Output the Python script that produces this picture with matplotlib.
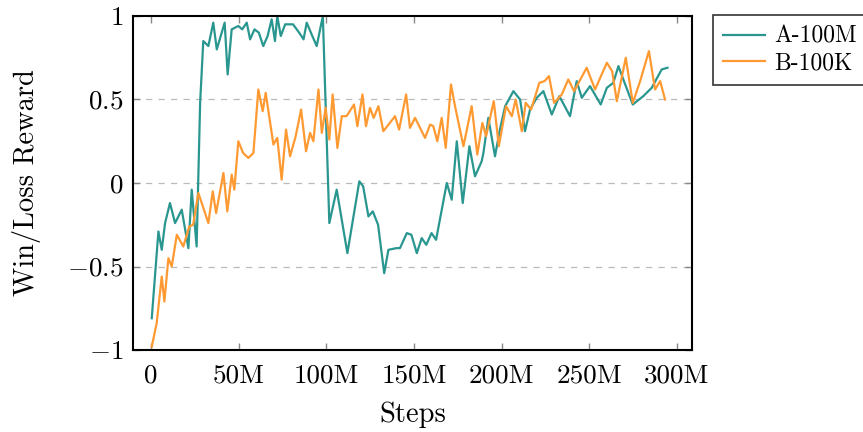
import matplotlib
matplotlib.use("Agg")
import matplotlib.pyplot as plt

plt.rcParams['font.family'] = 'serif'
plt.rcParams['font.serif'] = ['cmr10', 'DejaVu Serif']
plt.rcParams['mathtext.fontset'] = 'cm'
plt.rcParams['axes.formatter.use_mathtext'] = True

# steps in millions, reward values
a_steps = [0.4, 4.2, 6.1, 8, 10.8, 13.7, 17.5, 21.3, 23.2, 26, 28, 29.8, 32.7, 35.5, 37.5,
           42, 43.7, 46, 49.8, 52, 54.6, 56.5, 59, 61.5, 64, 66.5, 68.8, 70.7, 72, 74, 76.5,
           81, 84.5, 87, 88.8, 92, 94.5, 98, 101.7, 105.9, 112, 118.8, 121, 124, 126.5,
           129.5, 133, 135.4, 140, 142, 145.9, 148.5, 151.6, 154.4, 157, 160, 162.6, 168.7,
           171.5, 174.4, 177.8, 181.6, 184.8, 188.6, 189.6, 192.4, 196.2, 199, 202, 206.7,
           210.5, 213.3, 216.2, 220, 223.8, 228.6, 232.9, 239, 242.8, 245.7, 250.4, 256.5,
           260, 263.7, 266.6, 269.4, 274.8, 280.8, 285.6, 291.3, 294.6]
a_reward = [-0.81, -0.29, -0.40, -0.24, -0.12, -0.24, -0.16, -0.39, -0.04, -0.38, 0.48, 0.85,
            0.82, 0.96, 0.80, 0.96, 0.65, 0.92, 0.94, 0.92, 0.96, 0.86, 0.92, 0.90, 0.82,
            0.88, 0.98, 0.85, 1.0, 0.88, 0.95, 0.95, 0.90, 0.86, 0.96, 0.88, 0.82, 1.0, -0.24,
            -0.04, -0.42, 0.01, -0.02, -0.20, -0.17, -0.25, -0.54, -0.40, -0.39, -0.39, -0.30,
            -0.31, -0.42, -0.33, -0.37, -0.30, -0.34, 0.0, -0.10, 0.25, -0.12, 0.22, 0.04,
            0.13, 0.18, 0.39, 0.16, 0.32, 0.46, 0.55, 0.50, 0.31, 0.44, 0.51, 0.55, 0.41, 0.52,
            0.40, 0.61, 0.51, 0.58, 0.47, 0.57, 0.60, 0.70, 0.62, 0.47, 0.52, 0.57, 0.68, 0.69]

b_steps = [0.4, 3.2, 6.1, 7.6, 9.9, 11.8, 14.7, 18.4, 21.8, 24, 27, 32.7, 35.2, 37.1, 41.3,
           43.5, 46, 47.5, 49.8, 52.5, 55.5, 58.4, 61.2, 63.7, 65.4, 69.8, 72, 74.5, 77,
           79.3, 82.5, 85.6, 88.4, 90.7, 92.6, 95.5, 97.4, 99.6, 101.7, 103.6, 106.3, 108.8,
           111.5, 115.8, 117.7, 120.6, 122.6, 124.9, 127, 129.7, 132.5, 139.2, 141.5, 145.5,
           147.7, 150.6, 156.3, 159.2, 161, 163.3, 165.8, 168.1, 171.1, 173.4, 178.2, 182.9,
           186.1, 189, 191.1, 195.5, 198.4, 202.5, 205.8, 208, 211.5, 213.7, 216.8, 221.5,
           224.5, 227, 229.9, 234.3, 238, 241.3, 248.5, 253.3, 260, 263, 265.7, 270.8, 274.8,
           279, 284, 287.5, 290.4, 293.2]
b_reward = [-0.98, -0.84, -0.56, -0.71, -0.45, -0.50, -0.31, -0.38, -0.26, -0.25, -0.06,
            -0.24, -0.05, -0.18, 0.06, -0.17, 0.05, -0.04, 0.25, 0.18, 0.15, 0.18, 0.56, 0.43,
            0.54, 0.23, 0.27, 0.02, 0.32, 0.16, 0.28, 0.44, 0.19, 0.30, 0.25, 0.56, 0.30, 0.45,
            0.26, 0.53, 0.21, 0.40, 0.40, 0.47, 0.34, 0.53, 0.34, 0.45, 0.39, 0.46, 0.31, 0.40,
            0.32, 0.53, 0.33, 0.39, 0.27, 0.35, 0.34, 0.25, 0.39, 0.21, 0.59, 0.46, 0.22, 0.46,
            0.17, 0.36, 0.28, 0.49, 0.22, 0.46, 0.40, 0.50, 0.31, 0.48, 0.44, 0.60, 0.61, 0.64,
            0.48, 0.53, 0.62, 0.55, 0.69, 0.56, 0.72, 0.67, 0.49, 0.75, 0.48, 0.61, 0.79, 0.56,
            0.61, 0.50]

x_ticks = [0, 50, 100, 150, 200, 250, 300]
x_labels = ['0', '50M', '100M', '150M', '200M', '250M', '300M']
y_ticks = [-1, -0.5, 0, 0.5, 1]
y_labels = ['$-1$', '$-0.5$', '$0$', '$0.5$', '$1$']

fig = plt.figure(figsize=(8.63, 4.32), dpi=100)
ax = fig.add_axes([0.1541, 0.1898, 0.6478, 0.7732])

ax.plot(a_steps, a_reward, color='#2a9690', lw=1.6, label='A-100M')
ax.plot(b_steps, b_reward, color='#ff9a33', lw=1.6, label='B-100K')

ax.set_xlim(-10.3, 308.6)
ax.set_ylim(-1, 1)
ax.set_xticks(x_ticks)
ax.set_xticklabels(x_labels)
ax.set_yticks(y_ticks)
ax.set_yticklabels(y_labels)

for v in [-0.5, 0, 0.5]:
    ax.axhline(v, color='#bbbbbb', lw=0.9, ls=(0, (5, 5)), zorder=0)

ax.tick_params(direction='in', top=True, right=True, length=5, width=1,
               color='#888888', labelsize=19.5)
ax.tick_params(axis='x', pad=10)
ax.tick_params(axis='y', pad=7)
for s in ax.spines.values():
    s.set_linewidth(1.5)

ax.set_xlabel('Steps', fontsize=20.5, labelpad=10)
ax.set_ylabel('Win/Loss Reward', fontsize=20.5, labelpad=19)

leg = fig.legend(loc='upper left', bbox_to_anchor=(0.826, 0.965), fontsize=17,
                 frameon=True, fancybox=False, edgecolor='black', handlelength=1.75,
                 borderpad=0.45, labelspacing=0.2, handletextpad=0.4, borderaxespad=0)
leg.get_frame().set_linewidth(1.2)

fig.savefig('out.png', dpi=100)
